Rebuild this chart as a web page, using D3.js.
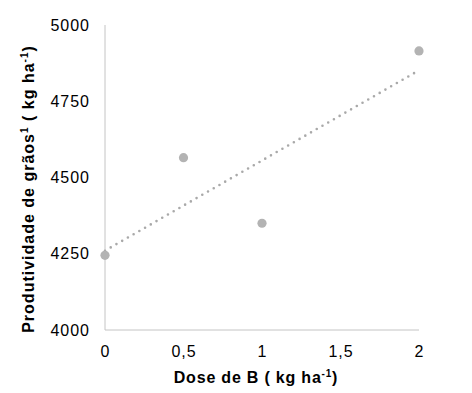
<!DOCTYPE html>
<html><head><meta charset="utf-8">
<script src="https://cdn.jsdelivr.net/npm/d3@7"></script>
<style>body{margin:0;background:#fff}svg{display:block}text{font-family:"Liberation Sans",Arial,sans-serif}</style>
</head><body><svg id="c" width="472" height="393"></svg>
<script>
const doses = [0, 0.5, 1, 2];
const yields = [4245, 4565, 4350, 4915];
const xTicks = [0, 0.5, 1, 1.5, 2];
const xTickLabels = ["0", "0,5", "1", "1,5", "2"];
const yTicks = [4000, 4250, 4500, 4750, 5000];

const svg = d3.select("#c");
const x = d3.scaleLinear().domain([0, 2]).range([105, 419]);
const y = d3.scaleLinear().domain([4000, 5000]).range([330, 25]);

// axes lines
svg.append("line").attr("x1", 105).attr("x2", 105).attr("y1", y(5000)).attr("y2", y(4000)).attr("stroke", "#c4c4c4").attr("stroke-width", 1);
svg.append("line").attr("x1", 105).attr("x2", x(2)).attr("y1", y(4000)).attr("y2", y(4000)).attr("stroke", "#c4c4c4").attr("stroke-width", 1);

const yAxis = d3.axisLeft(y).tickValues(yTicks).tickSize(0).tickPadding(15).tickFormat(d3.format("d"));
const gy = svg.append("g").attr("transform", "translate(105,0)").call(yAxis);
gy.select(".domain").remove();
gy.selectAll("text").attr("font-size", 16).attr("fill", "#000").style("font-family", "'Liberation Sans',Arial,sans-serif").attr("letter-spacing", 1);

const xAxis = d3.axisBottom(x).tickValues(xTicks).tickSize(0).tickPadding(16).tickFormat((d, i) => xTickLabels[i]);
const gx = svg.append("g").attr("transform", "translate(0,330)").call(xAxis);
gx.select(".domain").remove();
gx.selectAll("text").attr("font-size", 16).attr("fill", "#000").style("font-family", "'Liberation Sans',Arial,sans-serif").attr("letter-spacing", 1);

// linear trendline (least squares)
const n = doses.length;
const mx = d3.mean(doses), my = d3.mean(yields);
let sxy = 0, sxx = 0;
for (let i = 0; i < n; i++) { sxy += (doses[i] - mx) * (yields[i] - my); sxx += (doses[i] - mx) ** 2; }
const slope = sxy / sxx, icpt = my - slope * mx;
svg.append("line")
  .attr("x1", x(0)).attr("y1", y(icpt))
  .attr("x2", x(2)).attr("y2", y(icpt + slope * 2))
  .attr("stroke", "#a9a9a9").attr("stroke-width", 2.6)
  .attr("stroke-linecap", "round").attr("stroke-dasharray", "0,6.6");

svg.append("g").selectAll("circle").data(doses).join("circle")
  .attr("cx", d => x(d)).attr("cy", (d, i) => y(yields[i])).attr("r", 4.6).attr("fill", "#b3b3b3");

// titles
const xt = svg.append("text").attr("x", 256).attr("y", 383).attr("text-anchor", "middle")
  .attr("font-size", 16).attr("font-weight", "bold").attr("fill", "#000").attr("letter-spacing", 0.8);
xt.append("tspan").text("Dose de B ( kg ha");
xt.append("tspan").attr("font-size", 10).attr("dy", -6).text("-1");
xt.append("tspan").attr("dy", 6).text(")");

const yt = svg.append("text").attr("transform", "translate(34,189) rotate(-90)").attr("text-anchor", "middle")
  .attr("font-size", 16).attr("font-weight", "bold").attr("fill", "#000").attr("letter-spacing", 1);
yt.append("tspan").text("Produtividade de grãos");
yt.append("tspan").attr("font-size", 10).attr("dy", -6).text("1");
yt.append("tspan").attr("dy", 6).text(" ( kg ha");
yt.append("tspan").attr("font-size", 10).attr("dy", -6).text("-1");
yt.append("tspan").attr("dy", 6).text(")");
</script></body></html>
